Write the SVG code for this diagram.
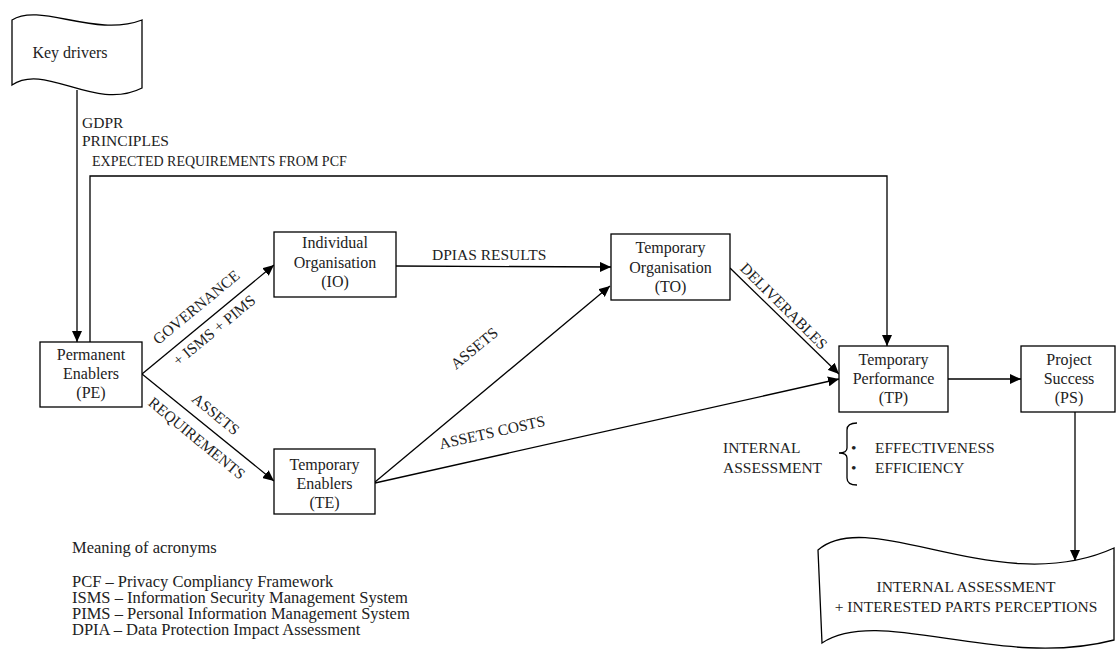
<svg xmlns="http://www.w3.org/2000/svg" width="1116" height="655" viewBox="0 0 1116 655">
<style>
.box{fill:#fff;stroke:#000;stroke-width:1.3}
.nt{font-family:"Liberation Serif","Times New Roman",serif;font-size:16px;fill:#222;text-anchor:middle}
.lb{font-family:"Liberation Serif","Times New Roman",serif;font-size:15.5px;fill:#222}
.lbc{font-family:"Liberation Serif","Times New Roman",serif;font-size:15.5px;fill:#222;text-anchor:middle;dominant-baseline:central}
.ac{font-family:"Liberation Serif","Times New Roman",serif;font-size:16.5px;fill:#222}
.ln{fill:none;stroke:#000;stroke-width:1.3}
</style>
<defs>
<marker id="ah" markerWidth="12" markerHeight="10" refX="11" refY="5" orient="auto" markerUnits="userSpaceOnUse">
<path d="M0,0 L11,5 L0,10 Z" fill="#000"/>
</marker>
</defs>
<rect width="1116" height="655" fill="#fff"/>

<g id="connectors">
<path class="ln" d="M77,90 L77,342" marker-end="url(#ah)"/>
<path class="ln" d="M90,342 L90,176 L887,176 L887,346" marker-end="url(#ah)"/>
<path class="ln" d="M142,374 L274,265" marker-end="url(#ah)"/>
<path class="ln" d="M142,374 L274,481" marker-end="url(#ah)"/>
<path class="ln" d="M396,266 L611,267" marker-end="url(#ah)"/>
<path class="ln" d="M375,482 L610,286" marker-end="url(#ah)"/>
<path class="ln" d="M375,483 L839,379" marker-end="url(#ah)"/>
<path class="ln" d="M730,268 L839,374" marker-end="url(#ah)"/>
<path class="ln" d="M948,379 L1021,379" marker-end="url(#ah)"/>
<path class="ln" d="M1075,412 L1075,561" marker-end="url(#ah)"/>
</g>

<g id="labels">
<text class="lb" x="82" y="128">GDPR</text>
<text class="lb" x="82" y="146">PRINCIPLES</text>
<text class="lb" x="92" y="166" style="font-size:14px">EXPECTED REQUIREMENTS FROM PCF</text>
<text class="lb" x="432" y="260">DPIAS RESULTS</text>
<text class="lbc" transform="translate(196,307) rotate(-39.5)">GOVERNANCE</text>
<text class="lbc" transform="translate(214,330) rotate(-39.5)">+ ISMS + PIMS</text>
<text class="lbc" transform="translate(216,414) rotate(39.3)">ASSETS</text>
<text class="lbc" transform="translate(197,438) rotate(39.3)">REQUIREMENTS</text>
<text class="lbc" transform="translate(474,348) rotate(-39.6)">ASSETS</text>
<text class="lbc" transform="translate(492,432) rotate(-12.6)">ASSETS COSTS</text>
<text class="lbc" transform="translate(784,306) rotate(44.7)">DELIVERABLES</text>
<text class="lb" x="723" y="453">INTERNAL</text>
<text class="lb" x="723" y="473">ASSESSMENT</text>
<path class="ln" d="M857,423 Q847,423 847,430 L847,448 Q847,453 839,453 Q847,453 847,458 L847,478 Q847,485 857,485"/>
<text class="lb" x="851" y="453">•</text>
<text class="lb" x="851" y="473">•</text>
<text class="lb" x="875" y="453">EFFECTIVENESS</text>
<text class="lb" x="875" y="473">EFFICIENCY</text>
</g>

<g id="key-drivers">
<path class="box" d="M12,20 C40,2 95,38 142,20 L142,88 C95,112 45,62 12,85 Z"/>
<text class="nt" x="70" y="58">Key drivers</text>
</g>

<g id="pe">
<rect class="box" x="40" y="342" width="102" height="65"/>
<text class="nt" x="91" y="360">Permanent</text>
<text class="nt" x="91" y="379">Enablers</text>
<text class="nt" x="91" y="398">(PE)</text>
</g>

<g id="io">
<rect class="box" x="274" y="232" width="122" height="65"/>
<text class="nt" x="335" y="248">Individual</text>
<text class="nt" x="335" y="268">Organisation</text>
<text class="nt" x="335" y="287">(IO)</text>
</g>

<g id="te">
<rect class="box" x="274" y="449" width="101" height="65"/>
<text class="nt" x="324.5" y="470">Temporary</text>
<text class="nt" x="324.5" y="489">Enablers</text>
<text class="nt" x="324.5" y="508">(TE)</text>
</g>

<g id="to">
<rect class="box" x="611" y="234" width="119" height="66"/>
<text class="nt" x="670.5" y="253">Temporary</text>
<text class="nt" x="670.5" y="273">Organisation</text>
<text class="nt" x="670.5" y="292">(TO)</text>
</g>

<g id="tp">
<rect class="box" x="839" y="346" width="109" height="66"/>
<text class="nt" x="893.5" y="365">Temporary</text>
<text class="nt" x="893.5" y="384">Performance</text>
<text class="nt" x="893.5" y="403">(TP)</text>
</g>

<g id="ps">
<rect class="box" x="1021" y="346" width="94" height="66"/>
<text class="nt" x="1069" y="365">Project</text>
<text class="nt" x="1069" y="384">Success</text>
<text class="nt" x="1069" y="403">(PS)</text>
</g>

<g id="outcome">
<path class="box" d="M818,550 C870,505 1000,600 1114,548 L1114,640 C1000,670 880,605 822,643 Z"/>
<text class="nt" x="966" y="592" style="font-size:15.5px">INTERNAL ASSESSMENT</text>
<text class="nt" x="966" y="612" style="font-size:15.5px">+ INTERESTED PARTS PERCEPTIONS</text>
</g>

<g id="legend">
<text class="ac" x="72" y="553">Meaning of acronyms</text>
<text class="ac" x="72" y="587">PCF – Privacy Compliancy Framework</text>
<text class="ac" x="72" y="603">ISMS – Information Security Management System</text>
<text class="ac" x="72" y="619">PIMS – Personal Information Management System</text>
<text class="ac" x="72" y="635">DPIA – Data Protection Impact Assessment</text>
</g>
</svg>
